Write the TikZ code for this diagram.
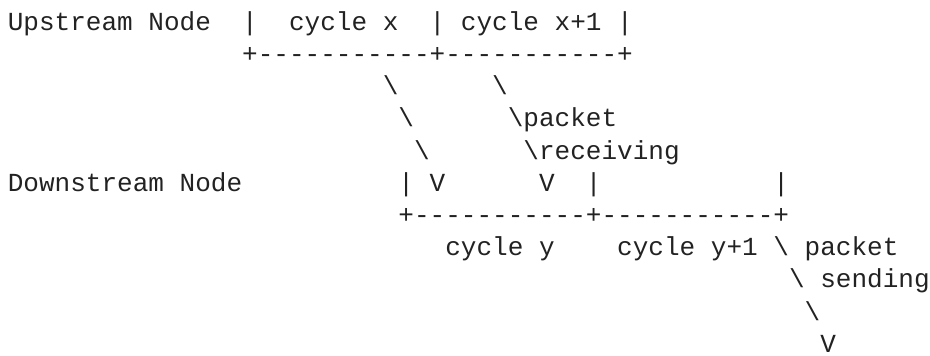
\documentclass[tikz,border=0pt]{standalone}
\usepackage{fontspec}
\setmonofont{Liberation Mono}
\definecolor{ink}{RGB}{34,34,34}
\tikzset{
  txt/.style={anchor=base west, inner sep=0pt, outer sep=0pt, text=ink,
    font=\ttfamily\fontsize{19.53}{22}\selectfont}
}
\newcommand\asc[4]{\node[txt] (#1) at ({7.8+#2*15.625},{30.3+#3*32.2}) {#4};}
\begin{document}
\begin{tikzpicture}[x=0.75pt,y=-0.75pt]
\useasboundingbox (0,0) rectangle (930,356);
% line 0
\asc{up}{0}{0}{Upstream Node}
\asc{upa}{15}{0}{|}
\asc{cx}{18}{0}{cycle x}
\asc{upb}{27}{0}{|}
\asc{cxa}{29}{0}{cycle x+1}
\asc{upc}{39}{0}{|}
% line 1
\asc{upline}{15}{1}{+-----------+-----------+}
% line 2
\asc{ra}{24}{2}{\textbackslash}
\asc{sa}{31}{2}{\textbackslash}
% line 3
\asc{rb}{25}{3}{\textbackslash}
\asc{sb}{32}{3}{\textbackslash packet}
% line 4
\asc{rc}{26}{4}{\textbackslash}
\asc{sc}{33}{4}{\textbackslash receiving}
% line 5
\asc{down}{0}{5}{Downstream Node}
\asc{dna}{25}{5}{|}
\asc{va}{27}{5}{V}
\asc{vb}{34}{5}{V}
\asc{dnb}{37}{5}{|}
\asc{dnc}{49}{5}{|}
% line 6
\asc{downline}{25}{6}{+-----------+-----------+}
% line 7
\asc{cy}{28}{7}{cycle y}
\asc{cya}{39}{7}{cycle y+1}
\asc{ta}{49}{7}{\textbackslash}
\asc{pk}{51}{7}{packet}
% line 8
\asc{tb}{50}{8}{\textbackslash}
\asc{sd}{52}{8}{sending}
% line 9
\asc{tc}{51}{9}{\textbackslash}
% line 10
\asc{vc}{52}{10}{V}
\end{tikzpicture}
\end{document}
